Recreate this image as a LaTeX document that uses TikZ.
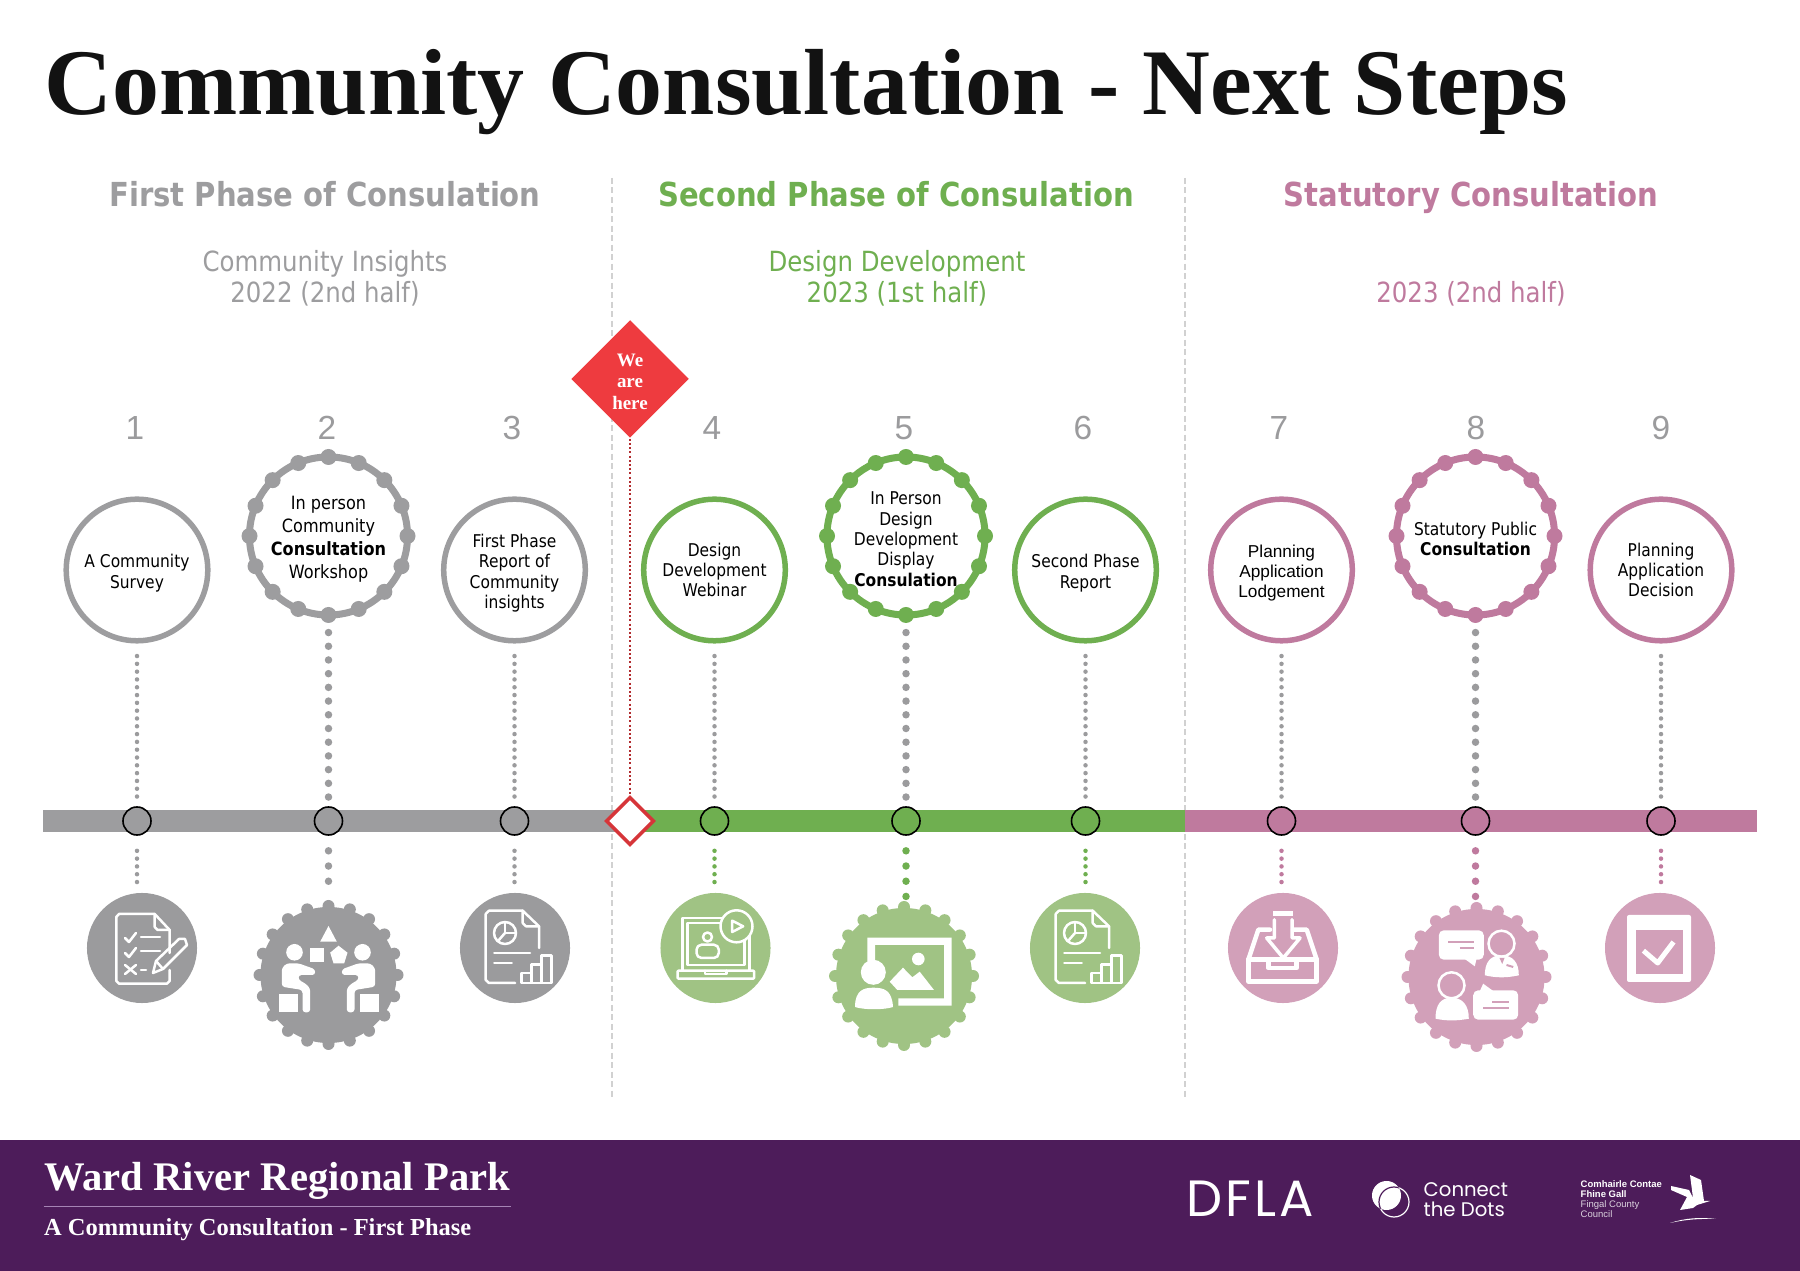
\documentclass[tikz,border=0pt]{standalone}
\usepackage{fontspec}
\setmainfont{Liberation Serif}
\setsansfont{Liberation Sans}
\newfontfamily\comicfont[FakeStretch=.88]{DejaVu Sans}
\newfontfamily\logofont{Poppins}
\newfontfamily\dflafont[LetterSpace=6]{Poppins}
\usetikzlibrary{shapes.geometric}
\definecolor{phasegray}{HTML}{9D9D9F}
\definecolor{phasegreen}{HTML}{6FAF50}
\definecolor{phasepink}{HTML}{BF7A9E}
\definecolor{softgray}{HTML}{9B9B9D}
\definecolor{softgreen}{HTML}{A0C384}
\definecolor{softpink}{HTML}{D2A0B9}
\definecolor{footpurple}{HTML}{4D1C5A}
\definecolor{hererred}{HTML}{EE3B3F}
\definecolor{footrule}{HTML}{A584B4}
\tikzset{
	steptext/.style={font=\comicfont\fontsize{5}{5.8}\selectfont, align=center, text=black},
	steptextbig/.style={font=\comicfont\fontsize{5.2}{6.5}\selectfont, align=center, text=black},
	helvtext/.style={font=\sffamily\fontsize{4.9}{5.7}\selectfont, align=center, text=black},
	stepnum/.style={font=\sffamily\fontsize{9.5}{10}\selectfont, text=softgray, inner sep=0pt},
	phasetext/.style={font=\comicfont\bfseries\fontsize{9.4}{10}\selectfont, text=#1, inner sep=0pt, anchor=base},
	subtext/.style={font=\comicfont\fontsize{7.9}{8.7}\selectfont, text=#1, align=center, inner sep=0pt},
	stepcircle/.style={circle, draw=#1, line width=.055cm, fill=white, minimum size=1.415cm, inner sep=0pt},
	stepring/.style={circle, draw=#1, line width=.07cm, fill=white, minimum size=1.58cm, inner sep=0pt},
	stepdot/.style={circle, draw=black, line width=.016cm, fill=#1, minimum size=.28cm, inner sep=0pt},
	stepicon/.style={circle, fill=#1, minimum size=1.1cm, inner sep=0pt},
	stepbadge/.style={circle, fill=#1, minimum size=1.36cm, inner sep=0pt},
	stemthin/.style={draw=#1, line width=.045cm, line cap=round, dash pattern=on 0pt off .078cm},
	stemfat/.style={draw=#1, line width=.075cm, line cap=round, dash pattern=on 0pt off .137cm},
	stemdrop/.style={draw=#1, line width=.075cm, line cap=round, dash pattern=on 0pt off .152cm},
	iconline/.style={draw=white, line width=.025cm, line join=round, line cap=round},
	iconfill/.style={fill=white, line join=round},
	footbig/.style={font=\bfseries\fontsize{11.55}{12}\selectfont, text=white, inner sep=0pt, anchor=base west},
	footsmall/.style={font=\bfseries\fontsize{6.95}{7}\selectfont, text=white, inner sep=0pt, anchor=base west},
	councilbold/.style={font=\sffamily\bfseries\fontsize{2.7}{2.9}\selectfont, text=white, inner sep=0pt, anchor=base west},
	councilthin/.style={font=\sffamily\fontsize{2.7}{2.9}\selectfont, text=white!80!footpurple, inner sep=0pt, anchor=base west}
}
\newcommand{\topstrut}{\rule{0pt}{1.1em}}
\newcommand{\ringbumps}[3]{\foreach \ang in {0,22.5,...,337.5} \fill[#1] (#2.center) ++(\ang:79) circle (#3);}
\newcommand{\badgebumps}[2]{\foreach \ang in {0,18,...,342} \fill[#1] (#2.center) ++(\ang:69) circle (6);}
\newcommand{\reporticon}[1]{
	\begin{scope}[shift={(#1.center)}, iconline]
		\draw (24,0) -- (24,-21.7) -- (7.7,-37.3) -- (-26,-37.3) -- (-29.3,-34) -- (-29.3,32) -- (-26,35) -- (0,35);
		\draw (7.7,-37.3) -- (7.7,-25) -- (11,-21.7) -- (24,-21.7);
		\draw (-10,-15) circle (11);
		\draw (-10,-26) -- (-10,-15) -- (1,-15);
		\draw (-10,-15) -- (-17,-7);
		\draw (-20.7,5) -- (15,5);
		\draw (-20.7,15) -- (-3.3,15);
		\draw (6.7,25) rectangle (16.7,35);
		\draw (16.7,16.7) rectangle (26.7,35);
		\draw (26.7,7.3) rectangle (36.7,35);
	\end{scope}
}
\begin{document}
\begin{tikzpicture}[x=0.01cm, y=-0.01cm]
	\useasboundingbox (0,0) rectangle (1800,1271);
	\node[anchor=base west, inner sep=0pt, font=\bfseries\fontsize{26.7}{30}\selectfont, text=black!93] (title) at (44,115) {Community Consultation - Next Steps};
	% phase headings
	\node[phasetext=phasegray] (ph1) at (325,207) {First Phase of Consulation};
	\node[phasetext=phasegreen] (ph2) at (896,207) {Second Phase of Consulation};
	\node[phasetext=phasepink] (ph3) at (1471,207) {Statutory Consultation};
	\node[subtext=phasegray] (sub1) at (325,278) {Community Insights\\2022 (2nd half)};
	\node[subtext=phasegreen] (sub2) at (897,278) {Design Development\\2023 (1st half)};
	\node[subtext=phasepink] (sub3) at (1471,294) {2023 (2nd half)};
	% phase separators
	\coordinate (sep1a) at (612,178);
	\coordinate (sep1b) at (612,1100);
	\coordinate (sep2a) at (1185,178);
	\coordinate (sep2b) at (1185,1100);
	\draw[black!18, line width=.025cm, dash pattern=on .06cm off .035cm] (sep1a) -- (sep1b);
	\draw[black!18, line width=.025cm, dash pattern=on .06cm off .035cm] (sep2a) -- (sep2b);
	% timeline band
	\fill[phasegray] (43,810) rectangle (630,832);
	\fill[phasegreen] (630,810) rectangle (1185,832);
	\fill[phasepink] (1185,810) rectangle (1757,832);
	% numbers
	\node[stepnum] (num1) at (135,428) {1};
	\node[stepnum] (num2) at (327,428) {2};
	\node[stepnum] (num3) at (512,428) {3};
	\node[stepnum] (num4) at (712,428) {4};
	\node[stepnum] (num5) at (904,428) {5};
	\node[stepnum] (num6) at (1083,428) {6};
	\node[stepnum] (num7) at (1279,428) {7};
	\node[stepnum] (num8) at (1476,428) {8};
	\node[stepnum] (num9) at (1661,428) {9};
	% step circles
	\node[stepcircle=phasegray, steptext] (c1) at (137,570) {\topstrut A Community\\Survey};
	\node[stepring=phasegray, steptextbig] (c2) at (328.5,536) {\topstrut In person\\Community\\\textbf{Consultation}\\Workshop};
	\ringbumps{phasegray}{c2}{8}
	\node[stepcircle=phasegray, steptext] (c3) at (514.5,570) {\topstrut First Phase\\Report of\\Community\\insights};
	\node[stepcircle=phasegreen, steptext] (c4) at (714.5,570) {Design\\Development\\Webinar};
	\node[stepring=phasegreen, steptext] (c5) at (906,536) {\topstrut In Person\\Design\\Development\\Display\\\textbf{Consulation}};
	\ringbumps{phasegreen}{c5}{8}
	\node[stepcircle=phasegreen, steptext] (c6) at (1085.5,570) {\topstrut Second Phase\\Report};
	\node[stepcircle=phasepink, helvtext] (c7) at (1281.5,570) {\topstrut Planning\\Application\\Lodgement};
	\node[stepring=phasepink, steptext] (c8) at (1475.5,536) {\topstrut Statutory Public\\\textbf{Consultation}};
	\ringbumps{phasepink}{c8}{8}
	\node[stepcircle=phasepink, steptext] (c9) at (1661,570) {Planning\\Application\\Decision};
	% dots on the band
	\node[stepdot=phasegray] (n1) at (137,821) {};
	\node[stepdot=phasegray] (n2) at (328.5,821) {};
	\node[stepdot=phasegray] (n3) at (514.5,821) {};
	\node[stepdot=phasegreen] (n4) at (714.5,821) {};
	\node[stepdot=phasegreen] (n5) at (906,821) {};
	\node[stepdot=phasegreen] (n6) at (1085.5,821) {};
	\node[stepdot=phasepink] (n7) at (1281.5,821) {};
	\node[stepdot=phasepink] (n8) at (1475.5,821) {};
	\node[stepdot=phasepink] (n9) at (1661,821) {};
	% we are here
	\node[diamond, fill=hererred, minimum size=1.18cm, inner sep=0pt, align=center, text=white, font=\bfseries\fontsize{5.4}{6}\selectfont] (we) at (630,379) {\rule{0pt}{.95em}We\\are\\here};
	\node[diamond, draw=hererred!90!black, line width=.035cm, fill=white, minimum size=.48cm, inner sep=0pt] (mark) at (630,821) {};
	\draw[hererred!75!black, line width=.018cm, dash pattern=on .02cm off .022cm] (we.south) -- (mark.north);
	% icons under the band
	\node[stepicon=softgray] (b1) at (142,948) {};
	\node[stepicon=softgray] (b3) at (515,948) {};
	\node[stepicon=softgreen] (b4) at (715.5,948) {};
	\node[stepicon=softgreen] (b6) at (1085,948) {};
	\node[stepicon=softpink] (b7) at (1283,948) {};
	\node[stepicon=softpink] (b9) at (1660,948) {};
	\node[stepbadge=softgray] (b2) at (328.5,975) {};
	\badgebumps{softgray}{b2}
	\node[stepbadge=softgreen] (b5) at (904,976) {};
	\badgebumps{softgreen}{b5}
	\node[stepbadge=softpink] (b8) at (1476.5,977) {};
	\badgebumps{softpink}{b8}
	% stems above the band
	\draw[stemthin=softgray, shorten <=.125cm, shorten >=.08cm] (c1) -- (n1);
	\draw[stemfat=softgray, shorten <=.14cm, shorten >=.08cm] (c2) -- (n2);
	\draw[stemthin=softgray, shorten <=.125cm, shorten >=.08cm] (c3) -- (n3);
	\draw[stemthin=softgray, shorten <=.125cm, shorten >=.08cm] (c4) -- (n4);
	\draw[stemfat=softgray, shorten <=.14cm, shorten >=.08cm] (c5) -- (n5);
	\draw[stemthin=softgray, shorten <=.125cm, shorten >=.08cm] (c6) -- (n6);
	\draw[stemthin=softgray, shorten <=.125cm, shorten >=.08cm] (c7) -- (n7);
	\draw[stemfat=softgray, shorten <=.14cm, shorten >=.08cm] (c8) -- (n8);
	\draw[stemthin=softgray, shorten <=.125cm, shorten >=.08cm] (c9) -- (n9);
	% stems below the band
	\draw[stemthin=softgray, shorten <=.15cm, shorten >=.1cm] (n1) -- (n1 |- b1.north);
	\draw[stemdrop=softgray, shorten <=.15cm, shorten >=.1cm] (n2) -- (n2 |- b2.north);
	\draw[stemthin=softgray, shorten <=.15cm, shorten >=.1cm] (n3) -- (n3 |- b3.north);
	\draw[stemthin=phasegreen, shorten <=.15cm, shorten >=.1cm] (n4) -- (n4 |- b4.north);
	\draw[stemdrop=phasegreen, shorten <=.15cm, shorten >=.1cm] (n5) -- (n5 |- b5.north);
	\draw[stemthin=phasegreen, shorten <=.15cm, shorten >=.1cm] (n6) -- (n6 |- b6.north);
	\draw[stemthin=phasepink, shorten <=.15cm, shorten >=.1cm] (n7) -- (n7 |- b7.north);
	\draw[stemdrop=phasepink, shorten <=.15cm, shorten >=.1cm] (n8) -- (n8 |- b8.north);
	\draw[stemthin=phasepink, shorten <=.15cm, shorten >=.1cm] (n9) -- (n9 |- b9.north);
	% survey icon
	\begin{scope}[shift={(b1.center)}, iconline]
		\draw (27.7,5) -- (27.7,-18) -- (12.7,-34) -- (-23,-34) -- (-25.7,-31) -- (-25.7,33) -- (-23,35.7) -- (25,35.7) -- (27.7,33) -- (27.7,22);
		\draw (12.7,-34) -- (12.7,-21) -- (15.7,-18) -- (27.7,-18);
		\draw (-17,-10) -- (-13,-6) -- (-6,-15);
		\draw (-1,-11) -- (18,-11);
		\draw (-17,5) -- (-13,9) -- (-6,0);
		\draw (-1,3) -- (18,3);
		\draw (-17,17) -- (-6,26);
		\draw (-17,26) -- (-6,17);
		\draw (-1,22) -- (4,22);
		\draw (11,25) -- (14,13) -- (37,-9) -- (43,-9) -- (45,-3) -- (21,21) -- cycle;
		\draw (14,13) -- (21,21);
	\end{scope}
	% workshop icon
	\begin{scope}[shift={(b2.center)}]
		\fill[iconfill] (0,-49) -- (-8.3,-33.3) -- (8.3,-33.3) -- cycle;
		\fill[iconfill] (-19,-27.3) rectangle (-5,-12.7);
		\fill[iconfill] (10,-29.3) -- (19,-22.3) -- (15.7,-11.7) -- (5,-11.7) -- (1.7,-22.3) -- cycle;
		\foreach \side in {1,-1} {
			\begin{scope}[xscale=\side]
				\fill[iconfill] (-34,-22.7) circle (8.3);
				\fill[iconfill, rounded corners=.03cm] (-41.7,-11.7) -- (-30,-11.7) -- (-13.3,-5.7) -- (-13.3,0) -- (-30,0) -- (-30,5) -- (-23.3,8.3) -- (-18.3,13.3) -- (-18.3,37.3) -- (-26,37.3) -- (-26,15) -- (-46.7,11.7) -- (-46.7,-7) -- cycle;
				\fill[iconfill] (-50,19.3) rectangle (-31,37.3);
			\end{scope}
		}
	\end{scope}
	% report icons
	\reporticon{b3}
	\reporticon{b6}
	% webinar icon
	\begin{scope}[shift={(b4.center)}, iconline]
		\draw (-33,22) -- (-33,-30) -- (34,-30) -- (34,22);
		\draw (-28,17) rectangle (29,-25);
		\draw[rounded corners=.01cm] (-38,22.7) rectangle (38.7,30.7);
		\draw (-10.7,22.7) -- (-10.7,26) -- (11,26) -- (11,22.7);
		\filldraw[fill=softgreen] (21,-21.7) circle (16);
		\draw (16.7,-27.3) -- (16.7,-16) -- (27.7,-21.7) -- cycle;
		\draw (-8,-11) circle (4.5);
		\draw[rounded corners=.05cm] (-19,10) rectangle (3.3,-3.3);
	\end{scope}
	% display icon
	\begin{scope}[shift={(b5.center)}]
		\fill[iconfill] (-36.7,-38.3) -- (47.7,-38.3) -- (47.7,29.7) -- (-5.7,29.7) -- (-5.7,22.3) -- (40,22.3) -- (40,-31) -- (-29,-31) -- (-29,-15) -- (-36.7,-15) -- cycle;
		\fill[iconfill] (14.3,-17) circle (6.3);
		\fill[iconfill] (-14.3,5.7) -- (-1,-8.3) -- (8.3,1.3) -- (15.7,-4.3) -- (30,14) -- (-6.7,14) -- cycle;
		\fill[iconfill] (-30.7,-3.7) circle (12.5);
		\fill[iconfill] (-49,31) .. controls (-49,14) and (-40,11.7) .. (-30.7,11.7) .. controls (-20,11.7) and (-12,14) .. (-11,31) .. controls (-20,34) and (-40,34) .. (-49,31) -- cycle;
	\end{scope}
	% inbox icon
	\begin{scope}[shift={(b7.center)}, iconline, line width=.045cm]
		\draw (-34.7,11.7) rectangle (33.7,33.3);
		\draw (-34.7,11.7) -- (-14.7,11.7) -- (-14.7,20) -- (13.7,20) -- (13.7,11.7) -- (33.7,11.7);
		\draw (-34.7,11.7) -- (-24.7,-18.3) -- (-13,-18.3);
		\draw (33.7,11.7) -- (23.7,-18.3) -- (10,-18.3);
		\fill[iconfill] (-9.7,-37.3) rectangle (10.3,-31.7);
		\draw[line width=.035cm] (-8.7,-28.3) -- (-8.7,-10) -- (-16.3,-10) -- (0.3,10) -- (17,-10) -- (9,-10) -- (9,-28.3);
	\end{scope}
	% dialogue icon
	\begin{scope}[shift={(b8.center)}]
		\fill[iconfill, rounded corners=.05cm] (-37.7,-46.7) rectangle (7.3,-17.3);
		\fill[iconfill] (-11.7,-18) -- (-1.7,-10.7) -- (0,-18) -- cycle;
		\draw[softpink, line width=.02cm] (-28.3,-35) -- (-2.3,-35);
		\draw[softpink, line width=.02cm] (-16.7,-29) -- (-2.3,-29);
		\draw[white, line width=.025cm] (25,-33.3) circle (13);
		\fill[iconfill] (8.3,-1.7) .. controls (8.3,-15) and (14,-21.7) .. (25,-21.7) .. controls (36,-21.7) and (42.3,-15) .. (42.3,-1.7) .. controls (30,1) and (20,1) .. (8.3,-1.7) -- cycle;
		\draw[softpink, line width=.02cm] (30,-12) -- (36.7,-10);
		\fill[softpink] (23,-19) -- (28,-19) -- (25.7,-13) -- cycle;
		\fill[iconfill, rounded corners=.05cm] (-3.3,13.3) rectangle (41.7,42.7);
		\fill[iconfill] (3.3,14) -- (6.7,6.7) -- (16.7,14) -- cycle;
		\draw[softpink, line width=.02cm] (6.7,30.7) -- (32.3,30.7);
		\draw[softpink, line width=.02cm] (15.7,25) -- (32.3,25);
		\draw[white, line width=.025cm] (-25,8.3) circle (13);
		\fill[iconfill] (-41,41.7) .. controls (-41,28) and (-36,20.7) .. (-25,20.7) .. controls (-14,20.7) and (-7.7,28) .. (-7.7,41.7) .. controls (-20,44) and (-30,44) .. (-41,41.7) -- cycle;
	\end{scope}
	% decision icon
	\begin{scope}[shift={(b9.center)}]
		\fill[iconfill, rounded corners=.02cm] (-33,-33) rectangle (31,34);
		\fill[softpink] (-24.5,-18) rectangle (23,26);
		\draw[white, line width=.05cm, line join=round] (-16.6,2.7) -- (-2.3,15) -- (13.5,-6);
	\end{scope}
	% footer
	\fill[footpurple] (0,1140) rectangle (1800,1271);
	\node[footbig] (ward) at (43.5,1190) {Ward River Regional Park};
	\coordinate (footline) at (43.5,1206.5);
	\draw[footrule, line width=.014cm] (footline) -- (footline -| ward.base east);
	\node[footsmall] (firstph) at (43.5,1235) {A Community Consultation - First Phase};
	% logos
	\node[anchor=base west, inner sep=0pt, text=white, font=\dflafont\fontsize{14.5}{15}\selectfont] (dfla) at (1186,1217) {DFLA};
	\fill[white] (1386.5,1195.5) circle (14.5);
	\draw[white, line width=.012cm] (1394,1202) circle (15);
	\begin{scope}
		\clip (1386.5,1195.5) circle (14.5);
		\draw[footpurple, line width=.012cm] (1394,1202) circle (15);
	\end{scope}
	\node[anchor=base west, inner sep=0pt, text=white, align=left, font=\logofont\fontsize{5.6}{5.7}\selectfont] (dots) at (1423,1217) {Connect\\the Dots};
	\node[councilbold] (cc1) at (1580,1188) {Comhairle Contae};
	\node[councilbold] (cc2) at (1580,1198) {Fhine Gall};
	\node[councilthin] (cc3) at (1580,1208) {Fingal County};
	\node[councilthin] (cc4) at (1580,1218) {Council};
	\fill[white] (1671,1186) -- (1689,1190) -- (1693,1198) -- (1690,1175) -- (1701,1180) -- (1704,1201) -- (1710,1201) -- (1697,1205) -- (1693,1208) -- (1680,1210) -- (1687,1197) -- (1671,1190) -- cycle;
	\fill[white] (1670,1223) .. controls (1685,1218) and (1700,1217) .. (1716,1219) .. controls (1700,1218.5) and (1685,1219.5) .. (1670,1223) -- cycle;
\end{tikzpicture}
\end{document}
